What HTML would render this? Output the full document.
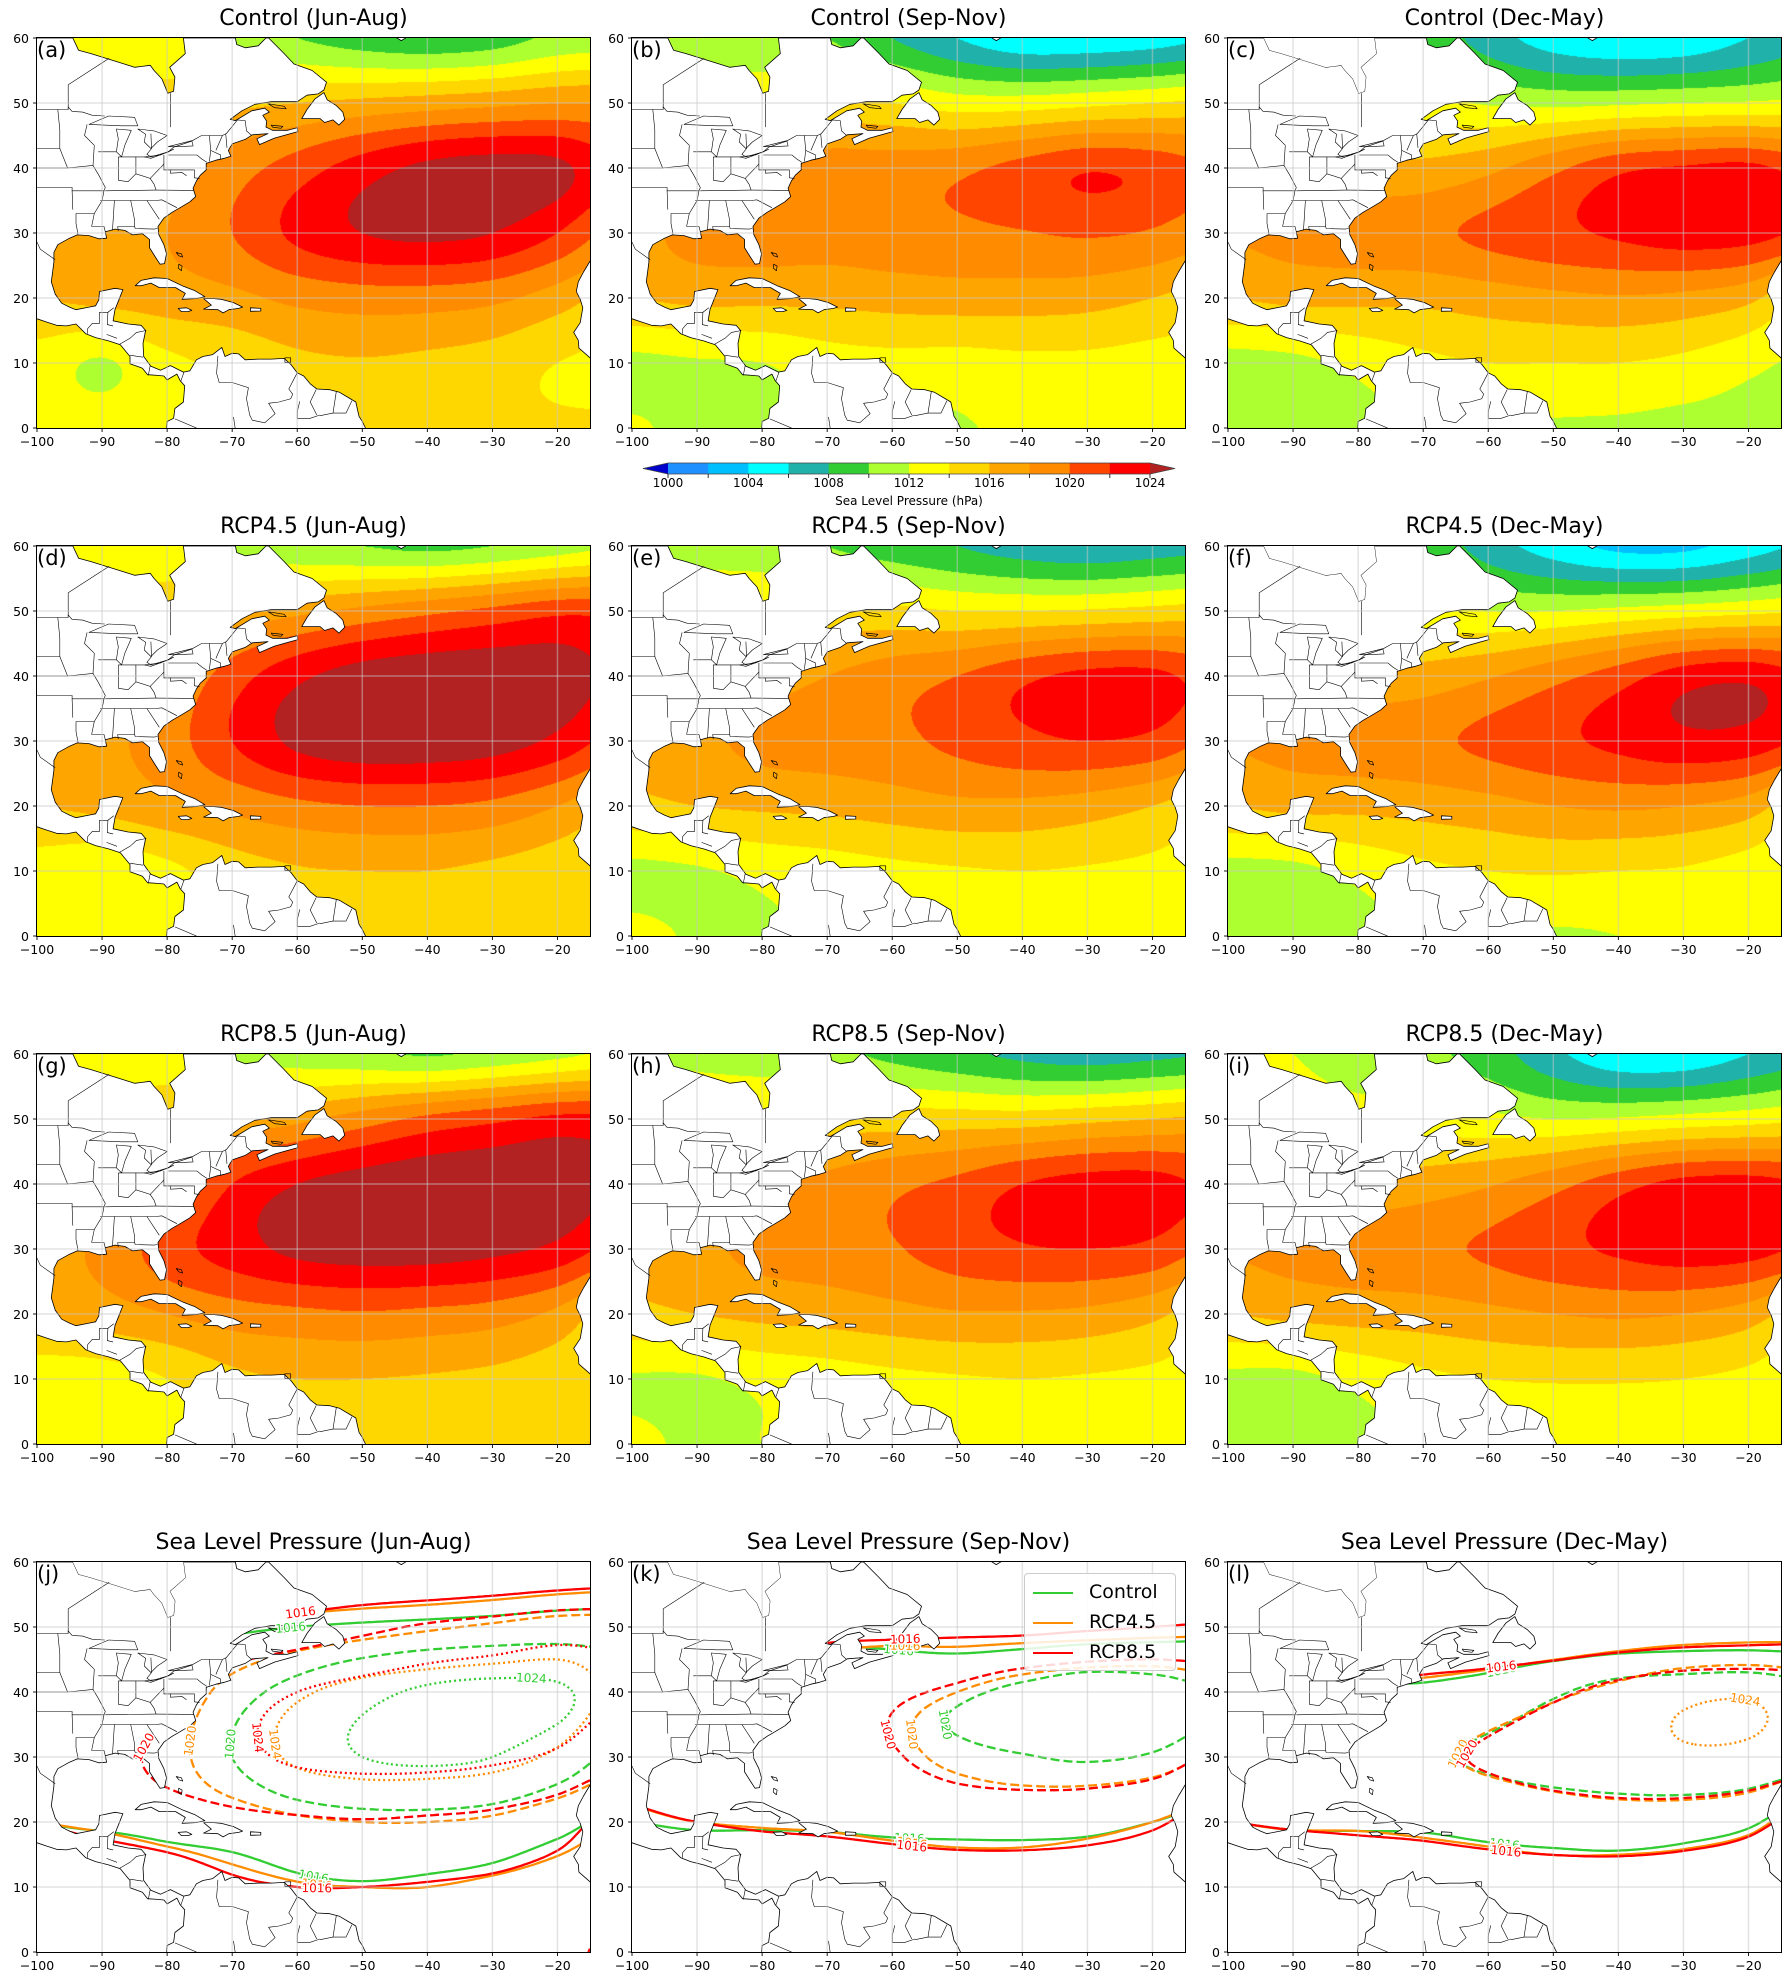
<!DOCTYPE html>
<html><head><meta charset="utf-8">
<style>
body{margin:0;background:#fff;}
#fig{position:relative;width:1789px;height:1986px;overflow:hidden;background:#fff;font-family:"DejaVu Sans","Liberation Sans",sans-serif;color:#000;}
.panel{position:absolute;width:553px;height:390px;}
.panel canvas{position:absolute;left:0;top:0;}
.panel svg{position:absolute;left:0;top:0;overflow:hidden;}
.frame{position:absolute;left:-1px;top:-1px;width:553px;height:390px;border:1px solid #000;pointer-events:none;}
.title{position:absolute;font-size:22px;white-space:nowrap;transform:translateX(-50%);line-height:22px;}
.tick{position:absolute;font-size:12.5px;line-height:13px;white-space:nowrap;}
.plabel{position:absolute;left:5px;top:2px;font-size:21px;}
.legend{position:absolute;left:392px;top:11px;width:150px;height:96px;background:rgba(255,255,255,0.85);border:1px solid #ccc;border-radius:4px;}
.legend .row{position:absolute;left:8px;font-size:19px;line-height:20px;}
.legend .sw{display:inline-block;width:40px;height:0;border-top:2px solid;vertical-align:middle;margin-right:16px;}
</style></head>
<body>
<div id="fig"></div>
<script>
// ---------- DATA: sea level pressure grids (hPa), rows lat 60..0, cols lon -100..-10 ----------
const LON_NODES=[-100,-90,-80,-70,-60,-50,-40,-30,-20,-10];
const LAT_NODES=[60,50,40,30,20,10,0];
const slpControlJJA=[
[1013,1013,1012.5,1011,1010,1009,1008.5,1009,1010.5,1011],
[1013.5,1014,1015,1015.5,1016,1016.5,1017,1017.5,1018,1018],
[1015,1016,1017,1019,1021,1023,1024.5,1025,1024.5,1022],
[1016,1017,1018,1020,1022.5,1024,1024.5,1024,1022,1019],
[1016,1016.5,1017,1017.5,1018.5,1019,1019,1018.5,1017,1015],
[1013,1011.8,1013.5,1014.5,1015.5,1015.8,1015.5,1015,1014,1013.5],
[1013,1013,1013.5,1014,1014.5,1014.8,1014.5,1014.3,1014.2,1014.2]];
const slpControlSON=[
[1012,1011.5,1011,1010,1008,1006,1004.5,1004.5,1005,1006],
[1013,1013,1013.5,1014.5,1014,1013,1013,1013.5,1014,1014.5],
[1015,1016,1018.5,1019,1019,1019.5,1020.7,1021.8,1021.3,1020],
[1017.5,1018.5,1019,1019,1019.3,1019.6,1019.9,1020.2,1019.8,1018.5],
[1016,1016.5,1016.5,1016.5,1016.8,1017,1017,1016.8,1016,1015],
[1011.5,1011.8,1012,1013,1013.3,1013.2,1013.5,1013.5,1013.2,1013],
[1012.2,1011.5,1011.5,1012,1011.7,1011.8,1012.5,1012.8,1012.8,1012.8]];
const slpControlDJF=[
[1012,1011,1010,1009.5,1007,1005,1004.2,1004.5,1006,1007.5],
[1014,1013.5,1013.2,1012.8,1011.8,1011.5,1011.7,1012,1012.2,1012.5],
[1016,1016.5,1016.5,1016.5,1017.5,1019.5,1021.5,1022.2,1022.5,1021],
[1018,1018.5,1019,1019.5,1020.5,1021.5,1022.3,1023,1022.8,1021.5],
[1016,1016.5,1016.5,1016.5,1017,1017.5,1017.8,1017.5,1016.5,1013.5],
[1011.2,1011.5,1012.5,1013.5,1014,1014,1014,1013.5,1012.5,1011.5],
[1011.3,1011.3,1011.5,1012,1012,1011.8,1011.7,1011.5,1011.5,1011.5]];
const slpRcp45JJA=[
[1013,1013,1012.5,1011.5,1010.5,1010,1009.5,1010,1011,1012],
[1014,1014.5,1015.5,1016.5,1017.5,1018.5,1019.5,1020.5,1021.5,1021.5],
[1015.5,1016.5,1018,1021,1023.5,1025,1025.5,1025.5,1025,1023.5],
[1016.5,1017.5,1019,1022,1024.5,1025.5,1025.5,1025,1023.5,1021],
[1016,1016.5,1017.5,1018.5,1019.5,1020,1020,1019.5,1018,1016],
[1013,1012.5,1013.5,1015,1015.8,1016,1016,1015.5,1014.8,1014],
[1013,1013,1013.5,1014.5,1015,1015,1014.8,1014.6,1014.5,1014.5]];
const slpRcp45SON=[
[1012,1011.5,1011,1010,1009,1008,1007,1006.5,1007,1007.5],
[1013.5,1013.5,1014,1014.5,1014.5,1014,1014,1014.2,1014.6,1015],
[1016,1016.5,1017,1018,1019,1020,1021.5,1022.5,1022.5,1021],
[1016.5,1017.5,1018.5,1019,1019.5,1020.5,1021.5,1022,1021.5,1019.5],
[1015.5,1016,1016.3,1016.5,1017,1017.5,1017.5,1017,1016,1014.5],
[1011.5,1011.8,1012.5,1013,1013.5,1013.8,1014,1013.8,1013.5,1013],
[1012.5,1011.8,1011.8,1012.2,1012.5,1012.3,1012.5,1012.8,1012.8,1012.8]];
const slpRcp45DJF=[
[1012,1011,1010,1009.5,1007,1005,1003.5,1003.5,1005,1006.5],
[1014,1013.5,1013.2,1012.8,1012,1012,1012.5,1013,1013.5,1014],
[1016,1016.5,1016.5,1016.8,1017.8,1019.3,1021,1023,1023.5,1022],
[1018,1018.5,1019,1019.5,1020.5,1021.5,1022.5,1023.5,1023.2,1021.5],
[1016,1016.5,1016.5,1016.8,1017.3,1018,1018.3,1018,1017,1014],
[1011.3,1011.5,1012.5,1013.5,1014,1014.2,1014,1013.8,1013,1012],
[1011.3,1011.3,1011.5,1012,1012,1011.8,1012,1012.5,1012.5,1012.5]];
const slpRcp85JJA=[
[1013,1013,1013,1011.5,1011,1010.5,1009.8,1010.5,1011.5,1012.5],
[1014,1014.5,1015.5,1016.5,1017.5,1019,1020.5,1021.5,1022.5,1022.5],
[1015.5,1016.5,1018.5,1022,1024,1025,1025.5,1025.5,1025.3,1024],
[1017,1018.5,1021,1023,1024.5,1025,1025,1024.5,1023.5,1021],
[1016,1017,1018,1019,1019.5,1019.8,1019.5,1019,1017.5,1014.5],
[1013,1013,1014,1015.5,1016,1016,1015.8,1015.5,1015,1015],
[1013,1013,1013.5,1014.5,1014.8,1014.8,1014.7,1015,1015.5,1016.5]];
const slpRcp85SON=[
[1012,1011.5,1011,1010.5,1009.5,1008.5,1007.5,1007,1007.5,1008],
[1013.5,1014,1014.5,1015,1015,1015,1015,1015.5,1016,1016.5],
[1016,1016.5,1017.5,1018.5,1019.5,1020.5,1022,1022.8,1022.8,1021.5],
[1016.5,1017.5,1018.5,1019,1019.8,1021,1021.8,1022,1021.5,1019.5],
[1015.5,1016,1016.5,1016.8,1017.3,1017.8,1017.8,1017.5,1016.5,1014.5],
[1011.8,1011.8,1012.5,1013,1013.5,1013.8,1014,1013.8,1013.5,1013],
[1012.5,1011.6,1012,1012.5,1012.5,1012.5,1012.7,1012.8,1012.8,1012.8]];
const slpRcp85DJF=[
[1012.5,1012,1011,1010.5,1009,1006.5,1004.5,1004.5,1006,1007.5],
[1014,1013.5,1013,1013,1012.5,1012,1012.2,1012.7,1013.2,1013.8],
[1016,1016.5,1016.5,1017,1017.8,1019.3,1021.2,1022.6,1022.8,1022],
[1018,1018.5,1019,1019.5,1020.3,1021.4,1022.3,1023,1022.8,1021.5],
[1016,1016.5,1016.8,1017,1017.5,1018,1018.3,1018,1017,1014.5],
[1011.5,1011.5,1012.5,1013.5,1014,1014.2,1014.2,1014,1013.5,1012.5],
[1011.3,1011.3,1011.5,1012,1012,1012,1012.3,1012.8,1012.8,1012.8]];

const levelBounds=[1000,1002,1004,1006,1008,1010,1012,1014,1016,1018,1020,1022,1024];
const levelColors=['#1e90ff','#00bfff','#00ffff','#20b2aa','#32cd32','#adff2f','#ffff00','#ffd700','#ffa500','#ff8c00','#ff4500','#ff0000'];
const underColor='#0000cd';
const overColor='#b22222';
const cbTicks=[1000,1004,1008,1012,1016,1020,1024];
const contourLevels=[1016,1020,1024];
const contourDashes=['none','9,4','2,3'];
const scenarioNames=['Control','RCP4.5','RCP8.5'];
const scenarioColors=['#32cd32','#ff8c00','#ff0000'];
const xTicks=[-100,-90,-80,-70,-60,-50,-40,-30,-20];
const yTicks=[0,10,20,30,40,50,60];

// ---------- layout ----------
const W=553,H=390;
const colX=[37,632,1228];
const rowY=[38,546,1054,1562];
const LON0=-100,LON1=-15,LAT0=0,LAT1=60;
function xScale(lon){return (lon-LON0)/(LON1-LON0)*W;}
function yScale(lat){return (LAT1-lat)/(LAT1-LAT0)*H;}

// ---------- geography (lon,lat) ----------
const northAmerica=[[-100,60],[-94.5,60],[-93.6,58.1],[-91.7,57.6],[-87.5,56.3],[-85,55.5],[-82.6,55.8],[-82,55],[-80.8,53.7],[-79.9,51.5],[-79,51.8],[-78.8,54],[-79.6,55.5],[-77.2,57.6],[-77.5,60],[-69.5,60],[-69.3,59],[-68,58.5],[-66,58.8],[-64.8,60],[-64.4,60],[-62,57.6],[-60.5,56],[-57.7,55],[-55.5,53.2],[-55.9,52],[-56.8,51.4],[-58.5,51.2],[-60,50.2],[-64,50.2],[-66.5,49.8],[-68.5,48.8],[-70.3,47.5],[-69.5,47.3],[-67,48.8],[-65,49.2],[-64.3,48.6],[-65.3,48.1],[-64.7,47.2],[-64.8,46.3],[-63.8,45.8],[-61.5,45.8],[-60,46.2],[-59.9,45.6],[-63.5,44.6],[-65.8,43.6],[-66.2,44.5],[-64.5,45.3],[-66.9,45.1],[-68,44.4],[-70,43.7],[-70.6,42.7],[-70.2,41.8],[-71.2,41.5],[-72.5,41.2],[-74,40.7],[-74,39.7],[-74.9,38.9],[-75.5,38],[-76,36.9],[-75.6,35.6],[-76.5,34.8],[-78,33.9],[-79.2,33.2],[-80.5,32.3],[-81.4,31],[-81.3,29.8],[-80.5,28.2],[-80.1,26.8],[-80.4,25.3],[-81.1,25.2],[-81.8,26.3],[-82.7,27.7],[-82.7,29],[-83.8,29.9],[-85.3,29.7],[-86.5,30.4],[-88,30.6],[-89.5,30.2],[-89.3,29.2],[-90.5,29.1],[-92,29.6],[-93.8,29.7],[-95,29.2],[-96.8,28.2],[-97.4,27],[-97.4,25.5],[-97.8,22.5],[-97.2,20.6],[-96.2,19.2],[-95,18.6],[-94,18.2],[-92,18.6],[-91,18.8],[-90.5,19.7],[-90.4,21],[-88,21.5],[-86.8,21.3],[-87.5,19.5],[-88,18.3],[-88.3,16.5],[-86,16],[-84,15.8],[-83.3,15],[-83.7,13],[-83.6,11],[-82.5,9.5],[-81,8.9],[-79.5,9.6],[-77.5,8.6],[-76.5,8.8],[-75.5,10.5],[-74.5,11],[-73,11.3],[-71.6,12.4],[-71.1,11],[-70,11.5],[-69,11.4],[-68,10.5],[-66,10.6],[-64,10.6],[-62,10.7],[-61,9.8],[-60,8.5],[-59,8],[-58,6.8],[-57,6],[-55,5.9],[-53.5,5.5],[-52,4.6],[-51,4],[-50.5,1.8],[-50,1],[-49.5,0],[-49,-2],[-81,-2],[-80.1,0],[-80,1],[-79,1.5],[-78.8,3],[-77.5,4],[-77.3,6.5],[-78,7.3],[-78.5,8.3],[-80,7.4],[-80.5,8],[-81.5,8.1],[-83,8.2],[-83.8,9.2],[-85.7,9.9],[-85.7,11],[-87.2,12.8],[-89,13.4],[-91,13.9],[-92.5,14.5],[-94,16],[-95.5,15.7],[-97,15.8],[-98.5,16.3],[-100,16.8],[-102,16.8],[-102,62],[-100,62]];
const hudsonBay=[[-94.5,60.5],[-94.5,60],[-93.6,58.1],[-91.7,57.6],[-87.5,56.3],[-85,55.5],[-82.6,55.8],[-82,55],[-80.8,53.7],[-79.9,51.5],[-79,51.8],[-78.8,54],[-79.6,55.5],[-77.2,57.6],[-77.5,60],[-77.5,60.5]];
const newfoundland=[[-59.3,47.6],[-58.5,49],[-57.3,50.6],[-55.9,51.6],[-55.4,50.5],[-54,49.6],[-53,48.6],[-52.7,47.5],[-53.6,46.6],[-54.5,47.4],[-55.8,47],[-56.5,47.6]];
const cuba=[[-84.9,21.9],[-84,22.7],[-82,23.1],[-80,23],[-77.5,21.8],[-75.7,21.1],[-74.2,20.2],[-75.6,19.9],[-77.7,19.8],[-77.2,20.7],[-78.7,21.6],[-81.2,21.6],[-82.5,22.3],[-84,21.9]];
const hispaniola=[[-74.4,19.9],[-72.8,19.9],[-71.7,19.8],[-69.8,19.3],[-68.4,18.6],[-69,18.4],[-70.5,18.2],[-71.4,17.7],[-72.2,18.2],[-74.4,18.3],[-73.2,18.9]];
const jamaica=[[-78.3,18.4],[-77,18.5],[-76.2,18.1],[-76.8,17.9],[-77.8,17.9]];
const puertoRico=[[-67.2,18.5],[-65.6,18.4],[-65.6,18],[-67.2,17.95]];
const africa=[[-13,28.5],[-14.8,26],[-16,24],[-16.8,22.5],[-17.1,21],[-16.5,19.8],[-16.1,18.5],[-16.5,16.2],[-17.5,14.7],[-16.8,13.5],[-16.7,12.3],[-15,10.8],[-14,9],[-12,9],[-12,28.5]];
const greenland=[[-45.5,60.5],[-44,59.6],[-42.5,60.5]];
const smallIslands=[[[-64.5,49.9],[-62,49.5],[-61.7,49.1],[-63.5,49.3]],[[-78.6,27],[-77.8,26.8],[-77.6,26.3],[-78.2,26.5]],[[-78.2,25.2],[-77.7,24.9],[-77.8,24.2],[-78.3,24.6]],[[-61.9,10.8],[-61,10.8],[-61,10.1],[-61.9,10.1]],[[-64,46.6],[-62.2,46.4],[-62.5,46.1],[-63.8,46.3]]];
const lakes=[[[-92,46.7],[-89,48],[-85,47.8],[-84.5,46.5],[-87,46.5]],[[-87.8,46],[-85.5,45.8],[-86.5,43.5],[-87,41.7],[-87.8,42.5],[-87.5,44.5]],[[-84.5,46],[-82,45.7],[-80,45],[-81.5,44],[-82.5,43],[-83.5,44],[-83.3,45.2]],[[-83.5,41.7],[-81,42],[-79,42.9],[-79.8,42.5],[-82.5,41.5]],[[-79.8,43.3],[-76.2,44.2],[-76,43.4],[-78,43.3]]];
const borders=[
[[-100,49],[-95.2,49],[-95.2,49.4],[-94.6,48.7],[-93,48.6],[-91.5,48.1],[-89.6,48]],
[[-95.2,49],[-95.2,52.8],[-88.9,56.9]],[[-79.5,46.3],[-79.5,51.5]],
[[-82.5,45.3],[-82.4,43],[-83.1,42.1],[-82.5,41.7],[-79.8,42.5],[-79,43.2],[-76.3,44.1],[-74.7,45],[-71.5,45],[-70.9,45.3],[-70,46.4],[-69.2,47.4],[-68,47.3],[-67.8,45.7],[-67,45]],
[[-100,43],[-96.5,43],[-96.5,45.9],[-96.8,49]],[[-96.5,43],[-96.1,42],[-95.3,40]],
[[-100,40],[-95.3,40],[-91.4,40.4]],[[-100,37],[-94.6,37],[-94.6,36.5],[-89.7,36.5]],
[[-94.5,33.6],[-94.6,36.5]],[[-94,33],[-91.2,33]],[[-94,33],[-94,31.5],[-93.7,29.8]],
[[-91.6,31],[-89.7,31],[-89.5,30.2]],
[[-91.2,43.5],[-91.4,40.4],[-90.5,38.9],[-89.5,37],[-89.7,36.5],[-90,35],[-91.2,33],[-91.6,31]],
[[-88.1,35],[-88.4,30.4]],[[-85.6,35],[-85,32],[-85,31],[-87.6,31],[-87.5,30.3]],
[[-85,31],[-84.9,30.7],[-82,30.6],[-81.5,30.7]],[[-90.3,35],[-81.7,35],[-80.8,35.1],[-78.5,33.9]],
[[-83.1,35],[-81.2,32.1]],[[-89.5,36.5],[-81.7,36.6],[-75.9,36.55]],
[[-87.5,41.7],[-87.5,38.1]],[[-84.8,41.7],[-84.8,39.1]],
[[-87.5,38.1],[-86,37.9],[-84.8,39.1],[-82.6,38.4],[-80.5,40.6]],[[-82.6,38.4],[-82,37.5],[-81.7,36.6]],
[[-90.6,42.5],[-87.8,42.5]],[[-87.5,41.7],[-83.5,41.7]],
[[-80.5,42],[-80.5,39.7],[-75.8,39.7],[-75.8,38.5],[-75,38.4]],[[-79.8,42],[-75.4,42],[-74.7,41.4],[-73.9,40.9]],
[[-79.5,39.7],[-79.5,39.2],[-77.7,39.3],[-77,38.8]],[[-73.5,45],[-73.3,42.7],[-73.5,41]],
[[-73.3,42.7],[-71.8,42],[-71.8,41.3]],[[-72.5,42.7],[-71.5,45]],[[-71,45.3],[-70.8,43.1]],
[[-92.3,46.7],[-92.7,45],[-91.2,43.5]],[[-100,28.6],[-99.5,27.5],[-97.2,25.9]],
[[-92.2,14.5],[-92.2,15.3],[-91.5,16.1],[-90.4,16.1],[-90.4,17.8],[-89.1,17.8],[-88.2,18.5]],
[[-89.1,17.8],[-89.2,15.9],[-88.3,15.7]],[[-89.3,14.4],[-87.7,13.8]],[[-87.3,12.9],[-85.7,13.8],[-84.7,14.7],[-83.2,15]],
[[-85.7,11.2],[-83.7,10.9]],[[-82.9,8.1],[-82.6,9.6]],[[-77.4,8.6],[-77.9,7.2]],
[[-72.2,11.1],[-72.4,8.4],[-72,7],[-70,7],[-67.5,6.2],[-67.8,4.5],[-67.3,2],[-66.9,1.2],[-65,0.8],[-63.4,2.2],[-64.4,3.8],[-62.8,4],[-61,4.5],[-60.7,5.2],[-61.3,6],[-60,8.5]],
[[-57.1,5.9],[-58,4],[-57,2]],[[-56.5,2],[-58,1.5],[-60,1.5],[-60,2.5],[-59.6,4.1]],
[[-54,5.6],[-54.5,2.3]],[[-51.6,4.2],[-52.5,2.3],[-54.5,2.3],[-56.5,1.9]],
[[-69.8,1.7],[-69.4,-1]],[[-78.8,1.4],[-75.5,0],[-75,-1]]];

// ---------- helpers ----------
const fig=document.getElementById('fig');
const SVGNS='http://www.w3.org/2000/svg';
function cr(p0,p1,p2,p3,t){return 0.5*(2*p1+(-p0+p2)*t+(2*p0-5*p1+4*p2-p3)*t*t+(-p0+3*p1-3*p2+p3)*t*t*t);}
function sample(grid,lon,lat){
  const fx=(lon-LON_NODES[0])/10, fy=(LAT_NODES[0]-lat)/10;
  const ix=Math.floor(fx), iy=Math.floor(fy), tx=fx-ix, ty=fy-iy;
  const g=(r,c)=>grid[Math.max(0,Math.min(LAT_NODES.length-1,r))][Math.max(0,Math.min(LON_NODES.length-1,c))];
  const rows=[];
  for(let k=-1;k<=2;k++) rows.push(cr(g(iy+k,ix-1),g(iy+k,ix),g(iy+k,ix+1),g(iy+k,ix+2),tx));
  return cr(rows[0],rows[1],rows[2],rows[3],ty);
}
function hexRGB(h){return [parseInt(h.substr(1,2),16),parseInt(h.substr(3,2),16),parseInt(h.substr(5,2),16)];}
const binRGB=levelColors.map(hexRGB), underRGB=hexRGB(underColor), overRGB=hexRGB(overColor);
function colorFor(v){
  if(v<levelBounds[0]) return underRGB;
  if(v>=levelBounds[levelBounds.length-1]) return overRGB;
  for(let i=0;i<levelBounds.length-1;i++) if(v<levelBounds[i+1]) return binRGB[i];
  return overRGB;
}
function ptsStr(poly){return poly.map(p=>xScale(p[0]).toFixed(1)+','+yScale(p[1]).toFixed(1)).join(' ');}

function contourLines(grid,level){
  const d=0.5, nx=Math.round((LON1-LON0)/d)+1, ny=Math.round((LAT1-LAT0)/d)+1;
  const v=[];
  for(let j=0;j<ny;j++){const row=[];for(let i=0;i<nx;i++) row.push(sample(grid,LON0+i*d,LAT0+j*d));v.push(row);}
  const pts={}, adj={};
  function edgePt(key,i0,j0,i1,j1){
    if(!(key in pts)){const a=v[j0][i0],b=v[j1][i1],t=(level-a)/(b-a);
      const lon=LON0+(i0+(i1-i0)*t)*d, lat=LAT0+(j0+(j1-j0)*t)*d; pts[key]=[xScale(lon),yScale(lat)];}
    return key;
  }
  function link(a,b){(adj[a]=adj[a]||[]).push(b);(adj[b]=adj[b]||[]).push(a);}
  for(let j=0;j<ny-1;j++)for(let i=0;i<nx-1;i++){
    const a=v[j][i],b=v[j][i+1],c=v[j+1][i+1],dd=v[j+1][i];
    const A=a>=level,B=b>=level,C=c>=level,D=dd>=level;
    const e=[];
    if(A!==B) e[0]=edgePt('h'+i+'_'+j,i,j,i+1,j);
    if(B!==C) e[1]=edgePt('v'+(i+1)+'_'+j,i+1,j,i+1,j+1);
    if(D!==C) e[2]=edgePt('h'+i+'_'+(j+1),i,j+1,i+1,j+1);
    if(A!==D) e[3]=edgePt('v'+i+'_'+j,i,j,i,j+1);
    const ks=e.filter(x=>x!==undefined);
    if(ks.length===2) link(ks[0],ks[1]);
    else if(ks.length===4){
      const cen=(a+b+c+dd)/4>=level;
      if(cen===A){link(e[0],e[1]);link(e[2],e[3]);} else {link(e[3],e[0]);link(e[1],e[2]);}
    }
  }
  const used=new Set(), lines=[];
  function ekey(a,b){return a<b?a+'|'+b:b+'|'+a;}
  function walk(start){
    const line=[start]; let cur=start;
    while(true){
      const nb=(adj[cur]||[]).find(n=>!used.has(ekey(cur,n)));
      if(nb===undefined) break;
      used.add(ekey(cur,nb)); line.push(nb); cur=nb;
      if(cur===start) break;
    }
    return line;
  }
  Object.keys(adj).forEach(k=>{if(adj[k].length===1&&adj[k].some(n=>!used.has(ekey(k,n)))) lines.push(walk(k));});
  Object.keys(adj).forEach(k=>{if(adj[k].some(n=>!used.has(ekey(k,n)))) lines.push(walk(k));});
  return lines.map(l=>l.map(k=>pts[k])).filter(l=>l.length>1);
}

function mkText(cls,txt,x,y,name){
  const el=document.createElement('div');
  el.className=cls; el.textContent=txt; el.style.left=x+'px'; el.style.top=y+'px';
  
  
  return el;
}

// ---------- panels ----------
const filledPanels=[
 {id:'a',title:'Control (Jun-Aug)',grid:slpControlJJA,hudson:true,r:0,c:0},
 {id:'b',title:'Control (Sep-Nov)',grid:slpControlSON,hudson:true,r:0,c:1},
 {id:'c',title:'Control (Dec-May)',grid:slpControlDJF,hudson:false,r:0,c:2},
 {id:'d',title:'RCP4.5 (Jun-Aug)',grid:slpRcp45JJA,hudson:true,r:1,c:0},
 {id:'e',title:'RCP4.5 (Sep-Nov)',grid:slpRcp45SON,hudson:true,r:1,c:1},
 {id:'f',title:'RCP4.5 (Dec-May)',grid:slpRcp45DJF,hudson:false,r:1,c:2},
 {id:'g',title:'RCP8.5 (Jun-Aug)',grid:slpRcp85JJA,hudson:true,r:2,c:0},
 {id:'h',title:'RCP8.5 (Sep-Nov)',grid:slpRcp85SON,hudson:true,r:2,c:1},
 {id:'i',title:'RCP8.5 (Dec-May)',grid:slpRcp85DJF,hudson:true,r:2,c:2}];
const contourPanels=[
 {id:'j',title:'Sea Level Pressure (Jun-Aug)',grids:[slpControlJJA,slpRcp45JJA,slpRcp85JJA],r:3,c:0},
 {id:'k',title:'Sea Level Pressure (Sep-Nov)',grids:[slpControlSON,slpRcp45SON,slpRcp85SON],r:3,c:1,legend:true},
 {id:'l',title:'Sea Level Pressure (Dec-May)',grids:[slpControlDJF,slpRcp45DJF,slpRcp85DJF],r:3,c:2}];

function addPolygon(svg,poly,fill,stroke,sw,name){
  const p=document.createElementNS(SVGNS,'polygon');
  p.setAttribute('points',ptsStr(poly)); p.setAttribute('fill',fill);
  p.setAttribute('stroke',stroke); p.setAttribute('stroke-width',sw); p.setAttribute('stroke-linejoin','round');
  
  
  svg.appendChild(p);
}

function buildPanel(P,isContour){
  const x0=colX[P.c], y0=rowY[P.r];
  const div=document.createElement('div');
  div.className='panel'; div.style.left=x0+'px'; div.style.top=y0+'px';
  
  
  fig.appendChild(div);
  const t=mkText('title',P.title,x0+W/2,y0-30,'panel-title-'+P.id);
  fig.appendChild(t);

  if(!isContour){
    const cv=document.createElement('canvas'); cv.width=W; cv.height=H;
    
    
    const ctx=cv.getContext('2d'); const img=ctx.createImageData(W,H);
    for(let py=0;py<H;py++){const lat=LAT1-(py+0.5)/H*(LAT1-LAT0);
      for(let px=0;px<W;px++){const lon=LON0+(px+0.5)/W*(LON1-LON0);
        const col=colorFor(sample(P.grid,lon,lat)); const o=(py*W+px)*4;
        img.data[o]=col[0];img.data[o+1]=col[1];img.data[o+2]=col[2];img.data[o+3]=255;}}
    ctx.putImageData(img,0,0); div.appendChild(cv);
  }
  const svg=document.createElementNS(SVGNS,'svg');
  svg.setAttribute('width',W); svg.setAttribute('height',H);
  
  
  div.appendChild(svg);

  const labelQueue=[];
  if(isContour){
    P.grids.forEach((g,s)=>{
      contourLevels.forEach((lev,li)=>{
        contourLines(g,lev).forEach(line=>{
          const path=document.createElementNS(SVGNS,'path');
          path.setAttribute('d','M'+line.map(p=>p[0].toFixed(1)+','+p[1].toFixed(1)).join('L'));
          path.setAttribute('fill','none'); path.setAttribute('stroke',scenarioColors[s]);
          path.setAttribute('stroke-width','2.3');
          if(contourDashes[li]!=='none') path.setAttribute('stroke-dasharray',contourDashes[li]);
          
          
          svg.appendChild(path);
          let len=0; for(let q=1;q<line.length;q++) len+=Math.hypot(line[q][0]-line[q-1][0],line[q][1]-line[q-1][1]);
          if(len>120) labelQueue.push({line,len,lev,s});
        });
      });
    });
  }
  addPolygon(svg,northAmerica,'#fff','#000','0.8','land-americas');
  if(!P.hudson) addPolygon(svg,hudsonBay,'#fff','none','0','hudson-bay-mask');
  addPolygon(svg,newfoundland,'#fff','#000','0.8','land-newfoundland');
  addPolygon(svg,cuba,'#fff','#000','0.8','land-cuba');
  addPolygon(svg,hispaniola,'#fff','#000','0.8','land-hispaniola');
  addPolygon(svg,jamaica,'#fff','#000','0.8','land-jamaica');
  addPolygon(svg,puertoRico,'#fff','#000','0.8','land-puerto-rico');
  addPolygon(svg,africa,'#fff','#000','0.8','land-africa');
  addPolygon(svg,greenland,'#fff','#000','0.8','land-greenland');
  smallIslands.forEach(isl=>addPolygon(svg,isl,'none','#000','0.7','small-island'));
  lakes.forEach(lk=>addPolygon(svg,lk,'#fff','#000','0.6','great-lake'));
  borders.forEach(b=>{
    const pl=document.createElementNS(SVGNS,'polyline');
    pl.setAttribute('points',ptsStr(b)); pl.setAttribute('fill','none');
    pl.setAttribute('stroke','#000'); pl.setAttribute('stroke-width','0.6');
    
    
    svg.appendChild(pl);
  });
  xTicks.slice(1).forEach(lon=>{
    const ln=document.createElementNS(SVGNS,'line');
    ln.setAttribute('x1',xScale(lon));ln.setAttribute('x2',xScale(lon));ln.setAttribute('y1',0);ln.setAttribute('y2',H);
    ln.setAttribute('stroke','rgba(200,200,200,0.5)');ln.setAttribute('stroke-width','1.5');
    
    
    svg.appendChild(ln);
  });
  yTicks.slice(1,-1).forEach(lat=>{
    const ln=document.createElementNS(SVGNS,'line');
    ln.setAttribute('x1',0);ln.setAttribute('x2',W);ln.setAttribute('y1',yScale(lat));ln.setAttribute('y2',yScale(lat));
    ln.setAttribute('stroke','rgba(200,200,200,0.5)');ln.setAttribute('stroke-width','1.5');
    
    
    svg.appendChild(ln);
  });
  labelQueue.forEach(L=>{
    const target=L.len/2; let acc=0, q=1;
    for(;q<L.line.length;q++){const sl=Math.hypot(L.line[q][0]-L.line[q-1][0],L.line[q][1]-L.line[q-1][1]); if(acc+sl>=target) break; acc+=sl;}
    q=Math.min(q,L.line.length-1);
    const p0=L.line[q-1],p1=L.line[q];
    let ang=Math.atan2(p1[1]-p0[1],p1[0]-p0[0])*180/Math.PI; if(ang>90) ang-=180; if(ang<-90) ang+=180;
    const tx=document.createElementNS(SVGNS,'text');
    tx.setAttribute('x',p0[0].toFixed(1)); tx.setAttribute('y',p0[1].toFixed(1));
    tx.setAttribute('transform','rotate('+ang.toFixed(1)+' '+p0[0].toFixed(1)+' '+p0[1].toFixed(1)+')');
    tx.setAttribute('text-anchor','middle'); tx.setAttribute('dominant-baseline','central');
    tx.setAttribute('font-size','12'); tx.setAttribute('font-family','DejaVu Sans, sans-serif');
    tx.setAttribute('fill',scenarioColors[L.s]); tx.setAttribute('stroke','#fff'); tx.setAttribute('stroke-width','3');
    tx.setAttribute('paint-order','stroke');
    tx.textContent=String(L.lev);
    
    
    svg.appendChild(tx);
  });
  const pl=mkText('plabel','('+P.id+')',0,0,'panel-letter-'+P.id);
  div.appendChild(pl);
  const fr=document.createElement('div'); fr.className='frame';
  
  
  div.appendChild(fr);
  const tk=document.createElementNS(SVGNS,'svg');
  tk.setAttribute('width',W+12); tk.setAttribute('height',H+8);
  tk.style.position='absolute'; tk.style.left=(x0-6)+'px'; tk.style.top=y0+'px'; tk.style.overflow='visible';
  
  
  fig.appendChild(tk);
  xTicks.forEach(lon=>{
    const ln=document.createElementNS(SVGNS,'line');
    ln.setAttribute('x1',xScale(lon)+6);ln.setAttribute('x2',xScale(lon)+6);ln.setAttribute('y1',H);ln.setAttribute('y2',H+4);
    ln.setAttribute('stroke','#000');ln.setAttribute('stroke-width','0.9');
    
    
    tk.appendChild(ln);
    const lb=mkText('tick',(lon<0?'\u2212':'')+Math.abs(lon),x0+xScale(lon),y0+H+7,'x-tick-label');
    lb.style.transform='translateX(-50%)';
    fig.appendChild(lb);
  });
  yTicks.forEach(lat=>{
    const ln=document.createElementNS(SVGNS,'line');
    ln.setAttribute('x1',2);ln.setAttribute('x2',6);ln.setAttribute('y1',yScale(lat));ln.setAttribute('y2',yScale(lat));
    ln.setAttribute('stroke','#000');ln.setAttribute('stroke-width','0.9');
    
    
    tk.appendChild(ln);
    const lb=mkText('tick',String(lat),x0-8,y0+yScale(lat)-6.5,'y-tick-label');
    lb.style.transform='translateX(-100%)';
    fig.appendChild(lb);
  });
  if(P.legend){
    const lg=document.createElement('div'); lg.className='legend';
    
    
    scenarioNames.forEach((n,s)=>{
      const row=document.createElement('div'); row.className='row'; row.style.top=(8+s*30)+'px';
      
      
      const sw=document.createElement('span'); sw.className='sw'; sw.style.borderTopColor=scenarioColors[s];
      
      
      row.appendChild(sw); row.appendChild(document.createTextNode(n));
      lg.appendChild(row);
    });
    div.appendChild(lg);
  }
}
filledPanels.forEach(P=>buildPanel(P,false));
contourPanels.forEach(P=>buildPanel(P,true));

// ---------- colorbar ----------
(function(){
  const cbL=668, cbR=1150, cbT=463, cbB=474, tipL=643, tipR=1175;
  const cb=document.createElementNS(SVGNS,'svg');
  cb.setAttribute('width',1789); cb.setAttribute('height',60);
  cb.style.position='absolute'; cb.style.left='0px'; cb.style.top=(cbT-5)+'px';
  
  
  fig.appendChild(cb);
  const oy=5, bw=(cbR-cbL)/(levelBounds.length-1);
  const cbX=v=>cbL+(v-levelBounds[0])/(levelBounds[levelBounds.length-1]-levelBounds[0])*(cbR-cbL);
  levelColors.forEach((c,i)=>{
    const r=document.createElementNS(SVGNS,'rect');
    r.setAttribute('x',cbX(levelBounds[i])); r.setAttribute('y',oy); r.setAttribute('width',bw+0.5); r.setAttribute('height',cbB-cbT);
    r.setAttribute('fill',c);
    
    
    cb.appendChild(r);
  });
  const t1=document.createElementNS(SVGNS,'polygon');
  t1.setAttribute('points',`${cbL},${oy} ${tipL},${oy+(cbB-cbT)/2} ${cbL},${oy+cbB-cbT}`); t1.setAttribute('fill',underColor);
  
  
  cb.appendChild(t1);
  const t2=document.createElementNS(SVGNS,'polygon');
  t2.setAttribute('points',`${cbR},${oy} ${tipR},${oy+(cbB-cbT)/2} ${cbR},${oy+cbB-cbT}`); t2.setAttribute('fill',overColor);
  
  
  cb.appendChild(t2);
  const ol=document.createElementNS(SVGNS,'polygon');
  ol.setAttribute('points',`${cbL},${oy} ${cbR},${oy} ${tipR},${oy+(cbB-cbT)/2} ${cbR},${oy+cbB-cbT} ${cbL},${oy+cbB-cbT} ${tipL},${oy+(cbB-cbT)/2}`);
  ol.setAttribute('fill','none'); ol.setAttribute('stroke','#444'); ol.setAttribute('stroke-width','0.8');
  
  
  cb.appendChild(ol);
  levelBounds.forEach(v=>{
    const ln=document.createElementNS(SVGNS,'line');
    ln.setAttribute('x1',cbX(v)); ln.setAttribute('x2',cbX(v)); ln.setAttribute('y1',oy+cbB-cbT); ln.setAttribute('y2',oy+cbB-cbT+4);
    ln.setAttribute('stroke','#000'); ln.setAttribute('stroke-width','0.8');
    
    
    cb.appendChild(ln);
  });
  cbTicks.forEach(v=>{
    const lb=mkText('tick',String(v),cbX(v),cbB+3,'colorbar-tick-label');
    lb.style.transform='translateX(-50%)'; lb.style.fontSize='12px';
    fig.appendChild(lb);
  });
  const cl=mkText('tick','Sea Level Pressure (hPa)',(cbL+cbR)/2,495,'colorbar-title');
  cl.style.transform='translateX(-50%)'; cl.style.fontSize='12px';
  fig.appendChild(cl);
})();
</script>
</body></html>
